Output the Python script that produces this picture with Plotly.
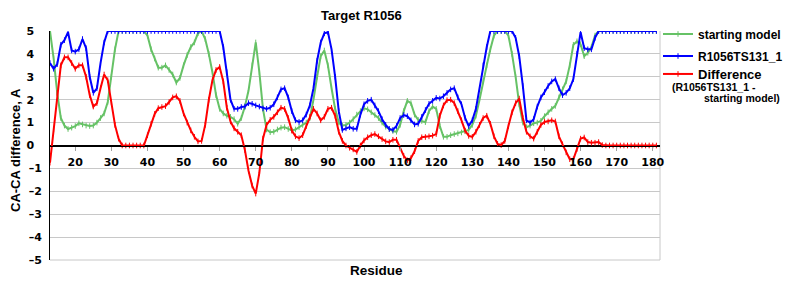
import plotly.graph_objects as go

residues = list(range(13, 182))

starting_model = [
    5.0, 3.8, 2.3, 1.2, 0.87, 0.72, 0.78, 0.85, 0.97, 0.92,      # 13-22
    0.87, 0.85, 0.87, 1.0, 1.2, 1.4, 1.9, 3.0, 4.2, 5.0,         # 23-32
    5.0, 5.0, 5.0, 5.0, 5.0, 5.0, 5.0, 4.8, 4.2, 3.8,            # 33-42
    3.4, 3.4, 3.5, 3.3, 3.1, 2.75, 2.95, 3.5, 3.95, 4.3,         # 43-52
    4.5, 4.9, 5.0, 4.65, 4.0, 3.2, 2.2, 1.6, 1.4, 1.3,           # 53-62
    1.25, 1.15, 0.95, 1.2, 1.7, 2.4, 3.5, 4.5, 3.2, 1.6,         # 63-72
    0.7, 0.58, 0.6, 0.7, 0.78, 0.8, 0.72, 0.66, 0.7, 0.8,        # 73-82
    0.9, 1.0, 1.2, 2.0, 3.0, 3.9, 4.15, 3.5, 2.5, 1.6,           # 83-92
    1.0, 0.87, 0.9, 1.0, 1.15, 1.35, 1.5, 1.62, 1.58, 1.45,      # 93-102
    1.33, 1.2, 1.0, 0.82, 0.72, 0.63, 0.6, 0.9, 1.5, 1.95,       # 103-112
    1.85, 1.35, 1.12, 1.07, 1.02, 1.5, 1.7, 1.6, 0.85, 0.38,     # 113-122
    0.38, 0.45, 0.5, 0.53, 0.57, 0.62, 0.68, 0.9, 1.3, 2.0,      # 123-132
    2.8, 3.5, 4.2, 4.8, 5.0, 5.0, 5.0, 4.8, 4.0, 3.0,            # 133-142
    1.8, 1.0, 0.8, 0.87, 0.97, 1.0, 1.08, 1.28, 1.45, 1.6,       # 143-152
    1.73, 2.1, 2.45, 2.8, 3.5, 4.4, 4.55, 4.42, 3.9, 4.05,       # 153-162
    4.3, 4.8, 5.0, 5.0, 5.0, 5.0, 5.0, 5.0, 5.0, 5.0,            # 163-172
    5.0, 5.0, 5.0, 5.0, 5.0, 5.0, 5.0, 5.0, 5.0,                 # 173-181
]

model_ts131 = [
    3.6, 3.35, 3.55, 4.4, 4.6, 4.95, 4.15, 4.1, 4.2, 4.65,       # 13-22
    4.25, 3.0, 2.3, 2.5, 3.6, 4.5, 5.0, 5.0, 5.0, 5.0,           # 23-32
    5.0, 5.0, 5.0, 5.0, 5.0, 5.0, 5.0, 5.0, 5.0, 5.0,            # 33-42
    5.0, 5.0, 5.0, 5.0, 5.0, 5.0, 5.0, 5.0, 5.0, 5.0,            # 43-52
    5.0, 5.0, 5.0, 5.0, 5.0, 5.0, 5.0, 5.0, 4.3, 3.2,            # 53-62
    2.0, 1.6, 1.6, 1.68, 1.7, 1.85, 1.82, 1.75, 1.7, 1.62,       # 63-72
    1.6, 1.65, 1.8, 2.1, 2.45, 2.5, 2.1, 1.5, 1.1, 1.03,         # 73-82
    1.1, 1.35, 1.75, 2.5, 3.7, 4.5, 4.9, 4.95, 4.2, 3.0,         # 83-92
    1.5, 0.68, 0.75, 0.8, 0.73, 0.73, 1.35, 1.8, 1.95, 2.0,      # 93-102
    1.75, 1.5, 1.15, 0.9, 0.72, 0.68, 0.85, 1.2, 1.33, 1.28,     # 103-112
    1.1, 0.92, 0.95, 1.25, 1.55, 1.82, 1.95, 2.08, 2.05, 2.15,   # 113-122
    2.3, 2.45, 2.5, 2.1, 1.8, 1.2, 0.85, 1.1, 1.6, 2.5,          # 123-132
    3.5, 4.3, 5.0, 5.0, 5.0, 5.0, 5.0, 5.0, 5.0, 4.7,            # 133-142
    3.9, 2.6, 1.1, 1.0, 1.15, 1.7, 2.1, 2.33, 2.6, 2.8,          # 143-152
    2.9, 2.5, 2.2, 2.3, 2.5, 2.9, 4.0, 4.95, 4.25, 4.2,          # 153-162
    4.2, 4.7, 5.0, 5.0, 5.0, 5.0, 5.0, 5.0, 5.0, 5.0,            # 163-172
    5.0, 5.0, 5.0, 5.0, 5.0, 5.0, 5.0, 5.0, 5.0,                 # 173-181
]

difference = [
    -0.75, 0.7, 2.3, 3.5, 3.85, 3.85, 3.6, 3.35, 3.5, 3.5,       # 13-22
    3.0, 2.2, 1.7, 1.85, 2.5, 3.1, 2.85, 1.9, 0.9, 0.3,          # 23-32
    0.0, 0.0, 0.0, 0.0, 0.0, 0.0, 0.0, 0.45, 0.95, 1.38,         # 33-42
    1.63, 1.68, 1.72, 1.9, 2.1, 2.15, 1.95, 1.4, 1.0, 0.66,      # 43-52
    0.38, 0.18, 0.2, 0.9, 2.0, 2.85, 3.3, 3.43, 2.8, 1.65,       # 53-62
    1.05, 0.75, 0.6, 0.45, -0.2, -1.1, -1.75, -2.1, -1.2, 0.3,   # 63-72
    0.9, 1.12, 1.25, 1.45, 1.65, 1.6, 1.2, 0.65, 0.4, 0.32,      # 73-82
    0.45, 0.85, 1.25, 1.6, 1.4, 1.1, 1.25, 1.6, 1.65, 1.3,       # 83-92
    0.6, 0.2, 0.0, -0.1, -0.17, -0.28, 0.0, 0.22, 0.36, 0.45,    # 93-102
    0.5, 0.4, 0.28, 0.18, 0.15, 0.25, 0.25, -0.12, -0.45, -0.65, # 103-112
    -0.55, -0.25, 0.2, 0.36, 0.37, 0.4, 0.43, 0.5, 1.3, 1.75,    # 113-122
    1.98, 2.0, 1.85, 1.5, 1.1, 0.65, 0.42, 0.38, 0.6, 0.9,       # 123-132
    1.2, 1.3, 0.95, 0.4, 0.07, 0.02, 0.2, 0.85, 1.45, 1.85,      # 133-142
    2.05, 1.2, 0.6, 0.4, 0.3, 0.6, 0.9, 1.03, 1.05, 1.1,         # 143-152
    1.05, 0.4, 0.05, -0.3, -0.6, -0.6, -0.15, 0.3, 0.35, 0.15,   # 153-162
    0.12, 0.12, 0.15, 0.02, 0.0, 0.0, 0.0, 0.0, 0.0, 0.0,        # 163-172
    0.0, 0.0, 0.0, 0.0, 0.0, 0.0, 0.0, 0.0, 0.0,                 # 173-181
]

x_ticks = list(range(20, 190, 10))
y_ticks = list(range(-5, 6))
y_ticktext = [(str(v) + "\u2007") if v >= 0 else ("\u2013" + str(-v)) for v in y_ticks]

GREEN = "#66c266"
BLUE = "#0000ff"
RED = "#ff0000"
TICK_FONT = dict(family="DejaVu Sans", size=11, color="black", weight="bold")
TEXT_FONT = "Liberation Sans"

# plot-area geometry in pixels (used only to place text/legends)
PL, PR, PT, PB = 50, 660, 31, 260
PW, PH = PR - PL, PB - PT


def px_x(px):
    return (px - PL) / PW


def px_y(py):
    return (PB - py) / PH


fig = go.Figure()


def add_series(y, name, color, legend):
    fig.add_trace(go.Scatter(
        x=residues, y=y, name=name, mode="lines+markers", legend=legend,
        line=dict(color=color, width=2),
        marker=dict(symbol="line-ns", size=4, line=dict(color=color, width=1)),
    ))


add_series(starting_model, "starting model", GREEN, "legend")
add_series(model_ts131, "R1056TS131_1", BLUE, "legend2")
add_series(difference, "Difference", RED, "legend3")


def legend_at(py, size):
    return dict(x=px_x(658), y=px_y(py), xanchor="left", yanchor="middle",
                font=dict(family=TEXT_FONT, size=size, color="black", weight="bold"),
                itemwidth=30, bgcolor="rgba(0,0,0,0)", borderwidth=0)


fig.update_layout(
    width=800, height=300,
    margin=dict(l=PL, r=800 - PR, t=PT, b=300 - PB),
    paper_bgcolor="white", plot_bgcolor="white",
    showlegend=True,
    legend=legend_at(34, 12),
    legend2=legend_at(56, 12),
    legend3=legend_at(74, 13),
    xaxis=dict(range=[13, 182], tickvals=x_ticks, ticktext=[str(v) for v in x_ticks],
               anchor="free", position=0.5, showline=True, linecolor="black", linewidth=1,
               ticks="outside", ticklen=4, tickcolor="#a0a0a0", showgrid=False, zeroline=False,
               tickfont=TICK_FONT, ticklabelstandoff=2),
    yaxis=dict(range=[-5, 5], tickvals=y_ticks, ticktext=y_ticktext,
               showline=True, linecolor="black", linewidth=1, showgrid=True, gridcolor="#c8c8c8",
               gridwidth=1, zeroline=True, zerolinecolor="black", zerolinewidth=1,
               ticks="", tickfont=TICK_FONT, ticklabelstandoff=5),
    shapes=[dict(type="line", xref="paper", yref="paper", x0=1, x1=1, y0=0, y1=1,
                 line=dict(color="#c8c8c8", width=1), layer="below"),
            dict(type="line", xref="paper", yref="paper", x0=0, x1=1, y0=0, y1=0,
                 line=dict(color="#c8c8c8", width=1), layer="below")],
    annotations=[
        dict(text="Target R1056", xref="paper", yref="paper", x=px_x(361), y=px_y(15),
             xanchor="center", yanchor="middle", showarrow=False,
             font=dict(family=TEXT_FONT, size=13, color="black", weight="bold")),
        dict(text="Residue", xref="paper", yref="paper", x=px_x(376), y=px_y(270),
             xanchor="center", yanchor="middle", showarrow=False,
             font=dict(family=TEXT_FONT, size=13.5, color="black", weight="bold")),
        dict(text="CA-CA difference, A", xref="paper", yref="paper", x=px_x(15.5),
             y=px_y(150.5), xanchor="center", yanchor="middle", textangle=-90, showarrow=False,
             font=dict(family=TEXT_FONT, size=13, color="black", weight="bold")),
        dict(text="(R1056TS131_1 -", xref="paper", yref="paper", x=px_x(670), y=px_y(87),
             xanchor="left", yanchor="middle", showarrow=False,
             font=dict(family=TEXT_FONT, size=10.5, color="black", weight="bold")),
        dict(text="starting model)", xref="paper", yref="paper", x=px_x(701.5), y=px_y(98.5),
             xanchor="left", yanchor="middle", showarrow=False,
             font=dict(family=TEXT_FONT, size=10.5, color="black", weight="bold")),
    ],
)

fig.write_html("out.html")
